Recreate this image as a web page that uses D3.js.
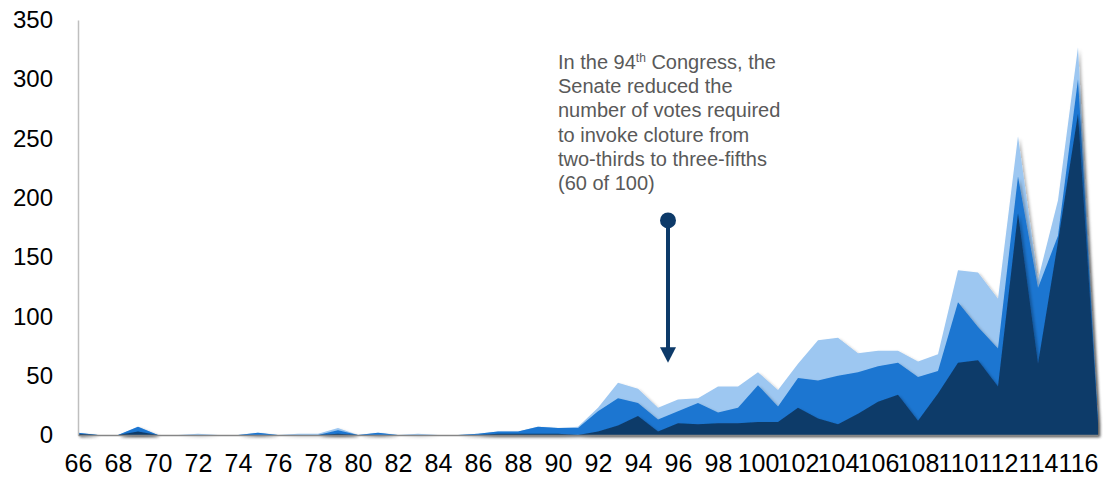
<!DOCTYPE html>
<html>
<head>
<meta charset="utf-8">
<script src="https://cdn.jsdelivr.net/npm/d3@7"></script>
<style>
  body { margin: 0; background: #fff; }
  svg text { font-family: Arial, "Liberation Sans", sans-serif; }
</style>
</head>
<body>
<div id="chart"></div>
<script>
// Congress number (66th .. 117th)
var congresses = d3.range(66, 118);

// cloture motions filed (light), votes on cloture (medium), cloture invoked (dark)
var filed = [2, 0, 0, 7, 0, 0, 1, 0, 0, 2, 0, 1, 1, 6, 0, 2, 0, 1, 0, 0,
  1, 3, 3, 7, 6, 7, 23, 44, 39, 23, 30, 31, 41, 41, 53, 38, 60, 80, 82, 69,
  71, 71, 62, 68, 139, 137, 115, 252, 131, 198, 327, 10];
var voted = [2, 0, 0, 7, 0, 0, 0, 0, 0, 2, 0, 0, 0, 4, 0, 2, 0, 0, 0, 0,
  1, 3, 3, 7, 6, 6, 20, 31, 27, 13, 20, 27, 19, 23, 42, 24, 48, 46, 50, 53,
  58, 61, 49, 54, 112, 91, 73, 218, 124, 168, 300, 10];
var invoked = [1, 0, 0, 3, 0, 0, 0, 0, 0, 0, 0, 0, 0, 1, 0, 0, 0, 0, 0, 0,
  0, 1, 1, 1, 1, 0, 3, 8, 16, 3, 10, 9, 10, 10, 11, 11, 23, 14, 9, 18,
  28, 34, 12, 35, 61, 63, 41, 187, 60, 163, 271, 10];

var yTicks = [0, 50, 100, 150, 200, 250, 300, 350];
var xTicks = d3.range(66, 117, 2);

var noteLines = ["In the 94|th| Congress, the", "Senate reduced the", "number of votes required",
  "to invoke cloture from", "two-thirds to three-fifths", "(60 of 100)"];

var width = 1103, height = 478;
var margin = {top: 20, right: 5, bottom: 43, left: 78};

var svg = d3.select("#chart").append("svg")
  .attr("width", width)
  .attr("height", height);

var defs = svg.append("defs");
var shadow = defs.append("filter").attr("id", "shadow")
  .attr("x", "-5%").attr("y", "-5%").attr("width", "115%").attr("height", "115%");
shadow.append("feDropShadow").attr("dx", 2).attr("dy", 2)
  .attr("stdDeviation", 1.5).attr("flood-color", "#000").attr("flood-opacity", 0.3);

var x = d3.scaleLinear().domain([66, 117]).range([margin.left, 1098]);
var y = d3.scaleLinear().domain([0, 350]).range([height - margin.bottom, margin.top]);

var series = [
  {name: "filed", values: filed, color: "#9dc7f1"},
  {name: "voted", values: voted, color: "#1b76d1"},
  {name: "invoked", values: invoked, color: "#0d3a69"}
];

var area = d3.area()
  .x(function(d) { return x(d[0]); })
  .y0(y(0))
  .y1(function(d) { return y(d[1]); });

svg.append("g").attr("class", "areas")
  .selectAll("path")
  .data(series)
  .enter().append("path")
  .attr("fill", function(d) { return d.color; })
  .attr("filter", "url(#shadow)")
  .attr("d", function(d) {
    return area(congresses.map(function(c, i) { return [c, d.values[i]]; }));
  });

// y axis
var yAxis = d3.axisLeft(y).tickValues(yTicks).tickSize(0).tickPadding(25);
var gy = svg.append("g")
  .attr("transform", "translate(" + margin.left + ",0)")
  .call(yAxis);
gy.select(".domain").attr("stroke", "#bfbfbf").attr("stroke-width", 1.5);
gy.selectAll("text").attr("font-size", 24).attr("fill", "#000");

// x axis
var xAxis = d3.axisBottom(x).tickValues(xTicks).tickSize(0).tickPadding(19)
  .tickFormat(d3.format("d"));
var gx = svg.append("g")
  .attr("transform", "translate(0," + y(0) + ")")
  .call(xAxis);
gx.select(".domain").attr("stroke", "#868686").attr("stroke-width", 1.5);
gx.selectAll("text").attr("font-size", 25).attr("fill", "#000");

// annotation
var note = svg.append("text")
  .attr("x", x(90))
  .attr("y", 69)
  .attr("font-size", 20)
  .attr("fill", "#595959");
noteLines.forEach(function(line, i) {
  var parts = line.split("|");
  parts.forEach(function(p, j) {
    var t = note.append("tspan").text(p);
    if (j === 0) t.attr("x", x(90)).attr("dy", i === 0 ? 0 : 24.2);
    if (j === 1) t.attr("font-size", 12).attr("dy", -7);
    if (j === 2) t.attr("dy", 7);
  });
});

var arrowX = x(95.5);
svg.append("line")
  .attr("x1", arrowX).attr("x2", arrowX)
  .attr("y1", y(181)).attr("y2", y(67))
  .attr("stroke", "#0d3a69").attr("stroke-width", 4);
svg.append("circle")
  .attr("cx", arrowX).attr("cy", y(181)).attr("r", 8)
  .attr("fill", "#0d3a69");
svg.append("path")
  .attr("d", d3.line()([[arrowX - 8, y(74)], [arrowX + 8, y(74)], [arrowX, y(61)]]) + "Z")
  .attr("fill", "#0d3a69");
</script>
</body>
</html>
